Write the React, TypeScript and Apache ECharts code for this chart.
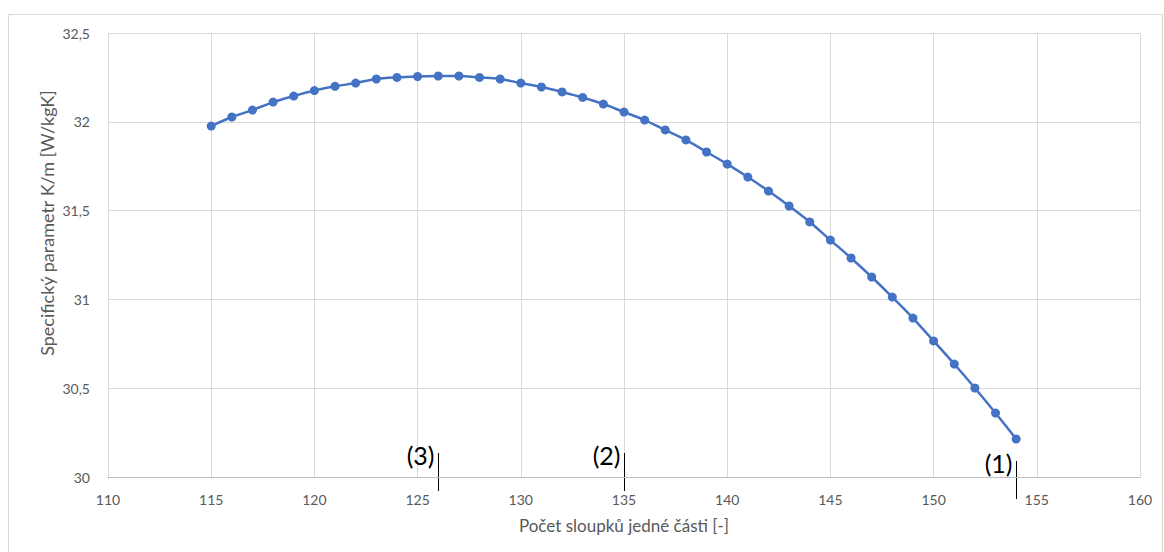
import React, { useEffect, useRef } from "react";
import * as echarts from "echarts";

const xValues = [115,116,117,118,119,120,121,122,123,124,125,126,127,128,129,130,131,132,133,134,135,136,137,138,139,140,141,142,143,144,145,146,147,148,149,150,151,152,153,154];
const yValues = [31.976,32.027,32.066,32.111,32.145,32.176,32.2,32.218,32.241,32.25,32.255,32.258,32.258,32.25,32.241,32.218,32.196,32.168,32.137,32.1,32.055,32.01,31.954,31.898,31.83,31.762,31.689,31.61,31.526,31.436,31.334,31.233,31.126,31.013,30.895,30.766,30.636,30.501,30.36,30.214];
const annotations = [
  { label: "(3)", x: 126, dy: 0 },
  { label: "(2)", x: 135, dy: 0 },
  { label: "(1)", x: 154, dy: 8 },
];
const xTitle = "Počet sloupků jedné části [-]";
const yTitle = "Specifický parametr K/m [W/kgK]";

const FONT = "Lato, 'Open Sans', sans-serif";

export default function App() {
  const ref = useRef<HTMLDivElement>(null);
  useEffect(() => {
    const chart = echarts.init(ref.current!, null, { renderer: "svg" });
    chart.setOption({
      animation: false,
      grid: { left: 108, right: 24, top: 33, bottom: 75 },
      xAxis: {
        type: "value",
        min: 110,
        max: 160,
        interval: 5,
        name: xTitle,
        nameLocation: "middle",
        nameGap: 40,
        nameTextStyle: { color: "#595959", fontSize: 17, fontFamily: FONT },
        axisLine: { show: true, lineStyle: { color: "#bfbfbf", width: 1 } },
        axisTick: { show: false },
        axisLabel: { color: "#595959", fontSize: 14, fontFamily: FONT, margin: 15 },
        splitLine: { show: true, lineStyle: { color: "#d9d9d9", width: 1 } },
      },
      yAxis: {
        type: "value",
        min: 30,
        max: 32.5,
        interval: 0.5,
        axisLine: { show: false },
        axisTick: { show: false },
        axisLabel: {
          color: "#595959",
          fontSize: 14,
          fontFamily: FONT,
          margin: 18,
          formatter: (v: number) => String(v).replace(".", ","),
        },
        splitLine: { show: true, lineStyle: { color: "#d9d9d9", width: 1 } },
      },
      series: [
        {
          type: "line",
          data: xValues.map((x, i) => [x, yValues[i]]),
          smooth: 0.3,
          symbol: "circle",
          symbolSize: 9,
          lineStyle: { color: "#4472C4", width: 2.5 },
          itemStyle: { color: "#4472C4" },
        },
      ],
    });

    const graphics: any[] = [
      {
        type: "rect",
        shape: { x: 8.5, y: 14.5, width: 1154, height: 540 },
        style: { fill: "none", stroke: "#d9d9d9", lineWidth: 1 },
        silent: true,
      },
      {
        type: "text",
        x: 47,
        y: 223,
        rotation: Math.PI / 2,
        style: {
          text: yTitle,
          fill: "#595959",
          fontSize: 18,
          fontFamily: FONT,
          align: "center",
          verticalAlign: "middle",
        },
        silent: true,
      },
    ];
    annotations.forEach((a) => {
      const p = chart.convertToPixel({ gridIndex: 0 }, [a.x, 30]) as number[];
      const px = Math.round(p[0]) + 0.5;
      const base = p[1] + a.dy;
      graphics.push({
        type: "line",
        shape: { x1: px, y1: base - 24, x2: px, y2: base + 14 },
        style: { stroke: "#000", lineWidth: 1 },
        silent: true,
      });
      graphics.push({
        type: "text",
        x: px - 4,
        y: base - 22,
        style: {
          text: a.label,
          fill: "#000",
          fontSize: 25,
          fontFamily: FONT,
          align: "right",
          verticalAlign: "middle",
        },
        silent: true,
      });
    });
    chart.setOption({ graphic: graphics });

    return () => chart.dispose();
  }, []);
  return (
    <div
      ref={ref}
      style={{ position: "fixed", left: 0, top: 0, width: 1164, height: 552, background: "#fff" }}
    />
  );
}
